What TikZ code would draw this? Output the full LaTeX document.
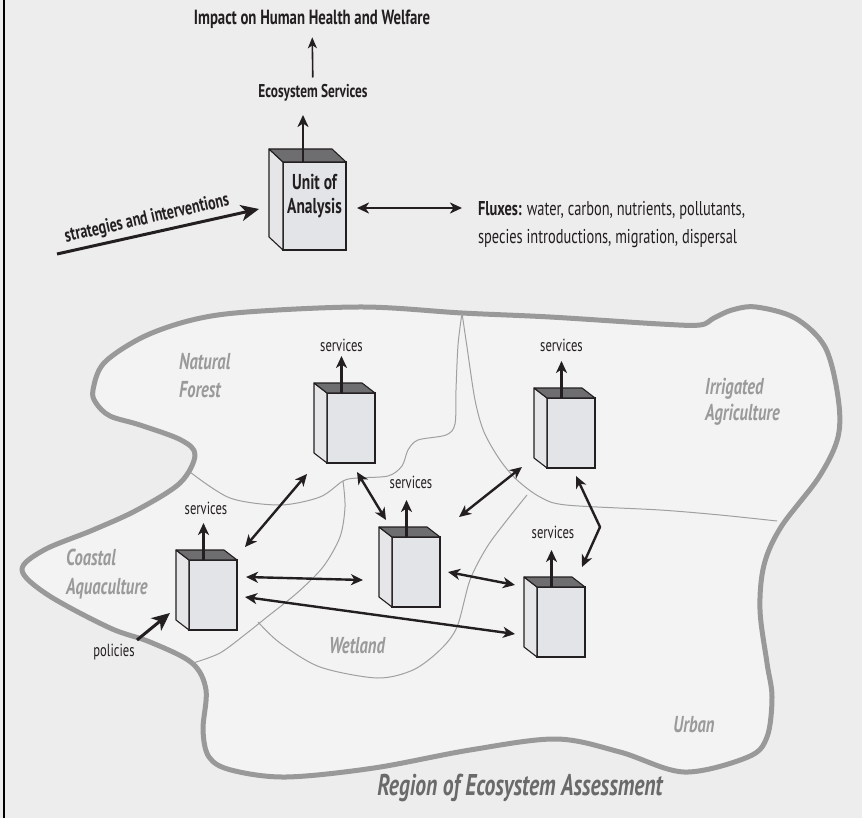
\documentclass[tikz,border=0pt]{standalone}
\usepackage{fontspec}
\setmainfont{PT Sans}[FakeStretch=0.72]
\usetikzlibrary{arrows.meta,calc}
\definecolor{bg}{HTML}{EDEDED}
\definecolor{regionfill}{HTML}{F3F3F3}
\definecolor{regionline}{HTML}{999999}
\definecolor{thinline}{HTML}{A0A0A0}
\definecolor{boxfront}{HTML}{E3E4E8}
\definecolor{boxside}{HTML}{E6E6E9}
\definecolor{boxtop}{HTML}{6E6E70}
\definecolor{ink}{HTML}{231F20}
\definecolor{lbl}{HTML}{9A9A9A}
\definecolor{ttl}{HTML}{6A6A6A}
\newcommand\cubefaces[3]{%
  \filldraw[draw=ink, fill=boxside, line width=1.1pt, line join=round]
    (#1.north west) -- ++(#2,#3) -- ($(#1.south west)+(#2,#3)$) -- (#1.south west) -- cycle;
  \filldraw[draw=ink, fill=boxtop, line width=1.1pt, line join=round]
    (#1.north west) -- ++(#2,#3) -- ($(#1.north east)+(#2,#3)$) -- (#1.north east) -- cycle;
}
\tikzset{
  frontbox/.style={draw=ink, fill=boxfront, line width=1.1pt, minimum width=48pt, minimum height=70pt, inner sep=0pt, outer sep=0pt},
  bigbox/.style={frontbox, minimum width=63pt, minimum height=88pt},
  txt/.style={inner sep=0pt, outer sep=0pt, text=ink},
  bold/.style={txt, font=\bfseries\fontsize{18}{20}\selectfont},
  svc/.style={txt, font=\fontsize{17.5}{19}\selectfont, anchor=base},
  region/.style={inner sep=0pt, text=lbl, font=\bfseries\itshape\fontsize{23}{25}\selectfont},
  arr/.style={draw=ink, line width=2.4pt, -{Stealth[length=12pt,width=11pt,inset=3.5pt]}},
  dbl/.style={draw=ink, line width=2.4pt, {Stealth[length=12pt,width=11pt,inset=3.5pt]}-{Stealth[length=12pt,width=11pt,inset=3.5pt]}},
  bigarr/.style={draw=ink, line width=3pt, -{Stealth[length=18pt,width=16pt,inset=5pt]}},
  thinarr/.style={draw=ink, line width=1.6pt, -{Stealth[length=11pt,width=9pt,inset=3pt]}},
  border/.style={draw=thinline, line width=1pt},
}
\begin{document}
\begin{tikzpicture}[x=1pt,y=-1pt]
\useasboundingbox (0,0) rectangle (862,818);
\fill[bg] (0,0) rectangle (862,818);
\draw[black, line width=2pt] (4,0) -- (4,818);

% ---------- region of ecosystem assessment ----------
\filldraw[draw=regionline, fill=regionfill, line width=5pt, line join=round]
  plot[smooth cycle, tension=0.55] coordinates {
  (93,390) (104,363) (143,337) (192,320) (247,312) (363,307) (462,313) (550,317)
  (660,324) (700,325) (714,318) (732,310) (756,307) (795,318) (825,347) (838,397) (838,437) (819,477)
  (781,527) (764,565) (760,610) (767,663) (772,697) (767,737) (748,757) (684,772)
  (620,752) (556,739) (470,750) (374,768) (286,777) (231,770) (209,757) (203,730)
  (206,690) (192,663) (150,642) (110,628) (48,595) (22,570) (44,550) (93,530)
  (137,510) (180,483) (195,455) (181,440) (140,425) (110,416) (96,403)};

% thin sub-region borders
\draw[border] plot[smooth, tension=0.5] coordinates {
  (462,313) (458,345) (456,390) (455,424) (446,435) (418,440) (408,450) (402,466)
  (388,476) (357,478) (343,481) (320,497) (280,505) (230,498) (190,472)};
\draw[border] plot[smooth, tension=0.5] coordinates {
  (343,481) (345,507) (340,537) (323,567) (297,593) (267,617) (247,633) (220,653) (193,663)};
\draw[border] plot[smooth, tension=0.5] coordinates {
  (258,622) (280,643) (320,667) (377,678) (413,670) (440,650) (457,627) (470,580)
  (487,547) (507,520) (527,495)};
\draw[border] plot[smooth, tension=0.5] coordinates {
  (462,313) (467,347) (475,400) (484,432) (500,460) (517,480) (540,497) (566,505)
  (660,510) (720,515) (777,521)};

% region labels
\node[region, anchor=base west] (nat1) at (179,369) {Natural};
\node[region, anchor=base west] (nat2) at (179,397) {Forest};
\node[region, anchor=base west] (irr1) at (705,394) {Irrigated};
\node[region, anchor=base west] (irr2) at (705,420) {Agriculture};
\node[region, anchor=base west] (coa1) at (66,565) {Coastal};
\node[region, anchor=base west] (coa2) at (66,594) {Aquaculture};
\node[region] (wet) at (357,646) {Wetland};
\node[region] (urb) at (694,725) {Urban};
\node[inner sep=0pt, text=ttl, font=\bfseries\itshape\fontsize{30}{32}\selectfont] (title) at (520,788) {Region of Ecosystem Assessment};

% ---------- top: unit of analysis ----------
\node[bold, font=\bfseries\fontsize{20.5}{22}\selectfont] (imp) at (312,19) {Impact on Human Health and Welfare};
\node[bold, font=\bfseries\fontsize{18.5}{20}\selectfont] (es) at (313,93) {Ecosystem Services};
\node[bigbox] (U) at (314.5,206) {};
\cubefaces{U}{-14}{-13}
\node[txt, align=center, font=\bfseries\fontsize{21.5}{24}\selectfont] (ut) at (314.5,196) {Unit of\\Analysis};

\draw[thinarr, shorten <=7pt, shorten >=9pt] (es) -- (imp);
\draw[arr] ([xshift=-11.5pt]U.north) -- ++(0,-47);

\node[txt, anchor=base west, font=\fontsize{20}{22}\selectfont] (flux1) at (478,216) {\textbf{Fluxes:} water, carbon, nutrients, pollutants,};
\node[txt, anchor=base west, font=\fontsize{20}{22}\selectfont] (flux2) at (478,244) {species introductions, migration, dispersal};
\draw[dbl] ([shift={(11,2)}]U.east) -- ([shift={(-16,-8)}]flux1.base west);

\coordinate (sstart) at (57,254);
\draw[bigarr] (sstart) -- ([shift={(-24,3)}]U.west);
\node[txt, rotate=12.6, font=\bfseries\fontsize{19.5}{21}\selectfont] (strat) at (147,219) {strategies and interventions};

% ---------- small units ----------
\node[frontbox] (A) at (351,428) {};
\node[frontbox] (B) at (571,433) {};
\node[frontbox] (C) at (416,572) {};
\node[frontbox] (D) at (213,595) {};
\node[frontbox] (E) at (561,622) {};
\cubefaces{A}{-13}{-10}
\cubefaces{B}{-13}{-10}
\cubefaces{C}{-13}{-10}
\cubefaces{D}{-13}{-10}
\cubefaces{E}{-13}{-10}

\node[svc] (sA) at ($(A.north)+(-9.5,-42)$) {services};
\node[svc] (sB) at ($(B.north)+(-9.5,-46)$) {services};
\node[svc] (sC) at ($(C.north)+(-5,-49)$) {services};
\node[svc] (sD) at ($(D.north)+(-7,-46)$) {services};
\node[svc] (sE) at ($(E.north)+(-8,-49)$) {services};

\draw[arr] ([xshift=-9.5pt]A.north) -- ++(0,-37);
\draw[arr] ([xshift=-9.5pt]B.north) -- ++(0,-37);
\draw[arr] ([xshift=-9.5pt]C.north) -- ++(0,-37);
\draw[arr] ([xshift=-9.5pt]D.north) -- ++(0,-37);
\draw[arr] ([xshift=-9.5pt]E.north) -- ++(0,-37);

% connectors between units
\draw[dbl] ([shift={(8,-13)}]D.north east) -- ([shift={(-20,11)}]A.south west);
\draw[dbl] ([shift={(6,9)}]A.south) -- ([shift={(-6,-17)}]C.north west);
\draw[dbl] ([shift={(19,-20)}]C.north east) -- ([shift={(-25,-1)}]B.south west);
\coordinate (bend) at (600,527);
\draw[dbl, line join=round] ([shift={(5,8)}]B.south) -- (bend) -- ([shift={(-3,-20)}]E.north east);
\draw[dbl] ([shift={(9,-18)}]D.east) -- ([shift={(-29,8)}]C.west);
\draw[dbl] ([shift={(8,0)}]C.east) -- ([shift={(-22,-37)}]E.west);
\draw[dbl] ([shift={(8,2)}]D.east) -- ([shift={(-22,12)}]E.west);

% policies
\node[txt, font=\fontsize{17.5}{19}\selectfont] (pol) at (114,652) {policies};
\coordinate (pstart) at (137,640);
\draw[bigarr] (pstart) -- ([shift={(-19,-17)}]D.south west);
\end{tikzpicture}
\end{document}
